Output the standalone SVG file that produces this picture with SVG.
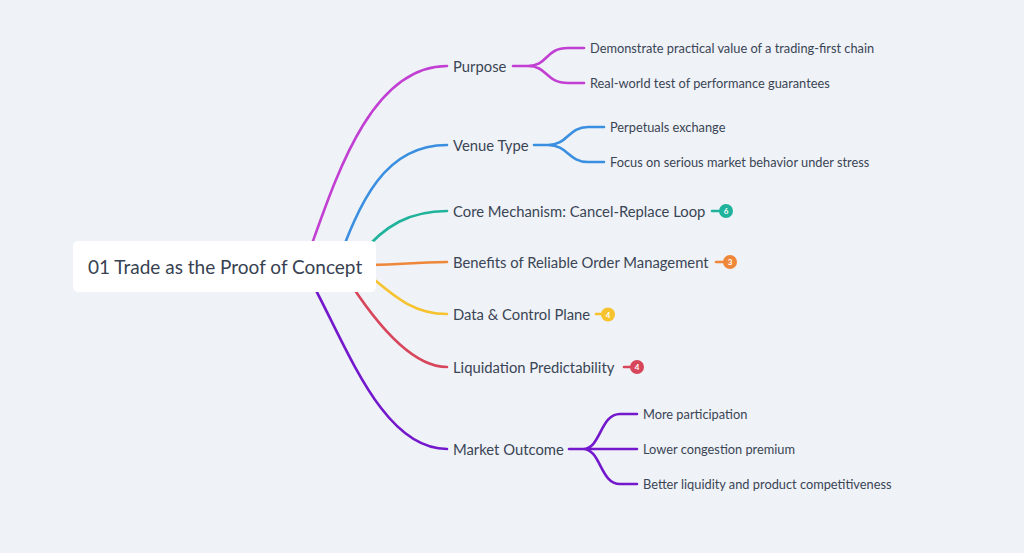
<svg xmlns="http://www.w3.org/2000/svg" width="1024" height="553" viewBox="0 0 1024 553">
<style>
.l{fill:none;stroke-width:2.6;stroke-linecap:round}
.t1{font-family:Lato,"Liberation Sans",sans-serif;font-size:14.8px;fill:#3a4555}
.t2{font-family:Lato,"Liberation Sans",sans-serif;font-size:12.8px;fill:#3a4555}
.root{font-family:Lato,"Liberation Sans",sans-serif;font-size:19px;fill:#374151}
.b{font-family:Lato,"Liberation Sans",sans-serif;font-size:8px;font-weight:bold;fill:#fff;text-anchor:middle}
</style>
<rect width="1024" height="553" fill="#eff2f7"/>
<g id="connectors">
<path class="l" stroke="#c23fd3" d="M308,255 C335,180 370,66 447,66"/>
<path class="l" stroke="#3a8fe0" d="M335,270 C360,200 385,145 447,145"/>
<path class="l" stroke="#20b39c" d="M360,255 C385,225 410,211 447,211"/>
<path class="l" stroke="#ee873a" d="M370,265 C405,265 410,262 447,262"/>
<path class="l" stroke="#f6c22e" d="M365,272 C390,292 410,314 447,314"/>
<path class="l" stroke="#d8465b" d="M345,275 C372,318 410,367 447,367"/>
<path class="l" stroke="#7318cc" d="M305,270 C345,340 380,449 447,449"/>
<path class="l" stroke="#c23fd3" d="M513,66 L528,66 C548,66 545,48 568,48 L584,48 M528,66 C548,66 545,83 568,83 L584,83"/>
<path class="l" stroke="#3a8fe0" d="M534,145 L548,145 C568,145 568,127 588,127 L604,127 M548,145 C568,145 568,162 588,162 L604,162"/>
<path class="l" stroke="#7318cc" d="M569,449 L583,449 C601,449 600,414 620,414 L637,414 M583,449 L637,449 M583,449 C601,449 600,484 620,484 L637,484"/>
<path class="l" stroke="#20b39c" d="M712,211 L720,211"/>
<path class="l" stroke="#ee873a" d="M716,262 L724,262"/>
<path class="l" stroke="#f6c22e" d="M596,314 L602,314"/>
<path class="l" stroke="#d8465b" d="M624,367 L631,367"/>
</g>
<g id="root">
<rect x="73" y="241" width="303" height="51" rx="5" fill="#fff"/>
<text class="root" x="88" y="274">01 Trade as the Proof of Concept</text>
</g>
<g id="purpose">
<text class="t1" x="453" y="71.5">Purpose</text>
</g>
<g id="purpose-1"><text class="t2" x="590" y="52.5">Demonstrate practical value of a trading-first chain</text></g>
<g id="purpose-2"><text class="t2" x="590" y="87.5">Real-world test of performance guarantees</text></g>
<g id="venue">
<text class="t1" x="453" y="150.5">Venue Type</text>
</g>
<g id="venue-1"><text class="t2" x="610" y="131.5">Perpetuals exchange</text></g>
<g id="venue-2"><text class="t2" x="610" y="166.5">Focus on serious market behavior under stress</text></g>
<g id="core">
<text class="t1" x="453" y="216.5">Core Mechanism: Cancel-Replace Loop</text>
<circle cx="726" cy="211" r="7" fill="#20b39c"/>
<text class="b" x="726" y="214">6</text>
</g>
<g id="benefits">
<text class="t1" x="453" y="267.5">Benefits of Reliable Order Management</text>
<circle cx="730" cy="262" r="7" fill="#ee873a"/>
<text class="b" x="730" y="265">3</text>
</g>
<g id="data">
<text class="t1" x="453" y="319.5">Data &amp; Control Plane</text>
<circle cx="608" cy="314.5" r="7" fill="#f6c22e"/>
<text class="b" x="608" y="317.5">4</text>
</g>
<g id="liquidation">
<text class="t1" x="453" y="372.5">Liquidation Predictability</text>
<circle cx="637" cy="367" r="7" fill="#d8465b"/>
<text class="b" x="637" y="370">4</text>
</g>
<g id="market">
<text class="t1" x="453" y="454.5">Market Outcome</text>
</g>
<g id="market-1"><text class="t2" x="643" y="418.5">More participation</text></g>
<g id="market-2"><text class="t2" x="643" y="453.5">Lower congestion premium</text></g>
<g id="market-3"><text class="t2" x="643" y="488.5">Better liquidity and product competitiveness</text></g>
</svg>
